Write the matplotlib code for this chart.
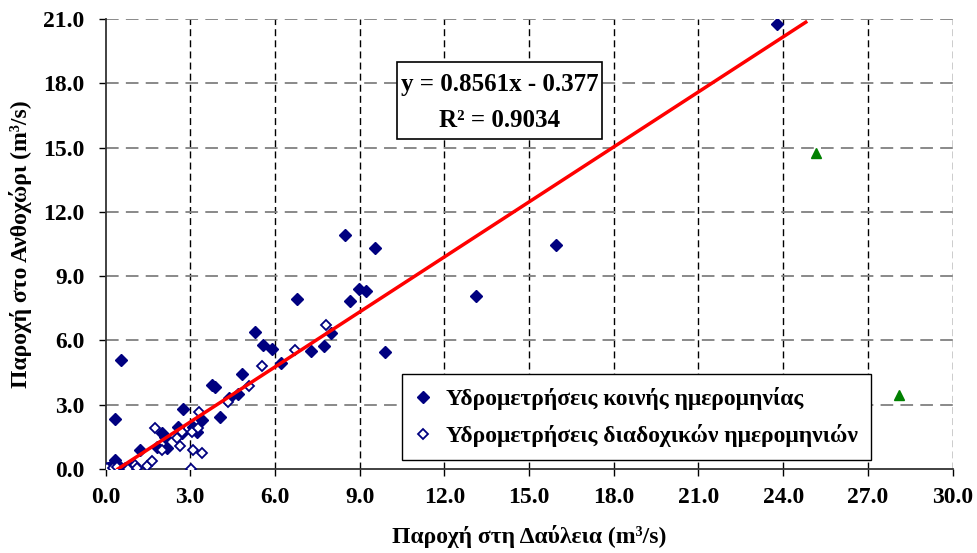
import numpy as np
import matplotlib
matplotlib.use("Agg")
import matplotlib.pyplot as plt
from matplotlib.patches import Rectangle

plt.rcParams['font.family'] = ['Liberation Serif', 'DejaVu Serif']
plt.rcParams['font.weight'] = 'bold'

# flow at Daulia (x) vs flow at Anthochori (y), m3/s
common_x = [0.09, 0.23, 0.34, 0.51, 0.69, 0.87, 0.34, 0.55, 1.22, 1.82, 2.18,
            2.0, 2.11, 2.57, 2.71, 3.10, 3.24, 3.42, 2.74, 4.05, 4.37, 4.69,
            3.77, 3.88, 4.83, 5.29, 5.58, 5.89, 6.21, 7.27, 7.74, 7.98, 6.78,
            8.65, 8.97, 9.22, 8.48, 9.54, 9.89, 13.12, 15.95, 23.77]
common_y = [0.05, 0.19, 0.42, 0.09, 0.05, 0.09, 2.33, 5.09, 0.89, 1.03, 0.98,
            1.68, 1.49, 1.96, 1.68, 1.96, 1.73, 2.29, 2.80, 2.43, 3.31, 3.50,
            3.92, 3.83, 4.43, 6.39, 5.79, 5.60, 4.95, 5.51, 5.74, 6.35, 7.93,
            7.84, 8.40, 8.31, 10.92, 10.31, 5.46, 8.07, 10.45, 20.77]

succ_x = [0.05, 0.27, 0.41, 0.80, 1.04, 1.12, 1.47, 1.65, 1.75, 2.0, 2.53,
          2.64, 2.70, 3.03, 3.06, 3.10, 3.27, 3.31, 3.42, 4.34, 5.08, 5.54,
          6.71, 7.81]
succ_y = [0.05, 0.05, 0.09, 0.0, 0.19, 0.05, 0.14, 0.37, 1.91, 0.89, 1.45,
          1.07, 1.72, 0.0, 1.73, 0.89, 1.91, 2.66, 0.75, 3.13, 3.87, 4.81,
          5.55, 6.72]

other_x = [25.15, 28.1]
other_y = [14.75, 3.45]

slope, intercept, r2 = 0.8561, -0.377, 0.9034
fit_x = np.array([0.44, 24.8])

x_ticks = np.arange(0, 30.1, 3)
y_ticks = np.arange(0, 21.1, 3)

navy = '#000080'

fig = plt.figure(figsize=(9.77, 5.53), dpi=100)
ax = fig.add_axes([0.108, 0.152, 0.867, 0.8135])

for v in x_ticks[1:]:
    ax.axvline(v, color='black', lw=1.0, ls=(0, (5, 3)), zorder=0)
for v in y_ticks[1:]:
    ax.axhline(v, color='#808080', lw=1.3, ls=(0, (7, 4)), zorder=0)

ax.plot(common_x, common_y, ls='none', marker='D', ms=6, color=navy,
        label='Υδρομετρήσεις κοινής ημερομηνίας', zorder=3)
ax.plot(succ_x, succ_y, ls='none', marker='D', ms=5.3, mfc='white', mec=navy,
        mew=1.3, label='Υδρομετρήσεις διαδοχικών ημερομηνιών', zorder=3)
ax.plot(other_x, other_y, ls='none', marker='^', ms=7.5, color='#008000', zorder=3)
ax.plot(fit_x, slope * fit_x + intercept, color='#ff0000', lw=2.5, zorder=4)

ax.set_xlim(0, 30)
ax.set_ylim(0, 21)
ax.set_xticks(x_ticks)
ax.set_yticks(y_ticks)
ax.set_xticklabels([f'{v:.1f}' for v in x_ticks])
ax.set_yticklabels([f'{v:.1f}' for v in y_ticks])
ax.tick_params(direction='out', length=5, width=1, labelsize=17)
ax.tick_params(axis='x', pad=8)
ax.tick_params(axis='y', pad=10)
for s in ['top', 'right']:
    ax.spines[s].set_visible(False)
for s in ['left', 'bottom']:
    ax.spines[s].set_linewidth(1.3)
    ax.spines[s].set_color('#333333')

ax.set_xlabel('Παροχή στη Δαύλεια (m³/s)', fontsize=17, fontweight='bold', labelpad=12)
ax.set_ylabel('Παροχή στο Ανθοχώρι (m³/s)', fontsize=17, fontweight='bold', labelpad=8)

# equation box
ax.add_patch(Rectangle((0.344, 0.733), 0.242, 0.171, transform=ax.transAxes,
                       facecolor='white', edgecolor='black', lw=1.2, zorder=5))
ax.text(0.465, 0.855, f'y = {slope:.4f}x - {abs(intercept):.3f}', transform=ax.transAxes,
        ha='center', va='center', fontsize=18, fontweight='bold', zorder=6)
ax.text(0.465, 0.775, f'R² = {r2:.4f}', transform=ax.transAxes,
        ha='center', va='center', fontsize=18, fontweight='bold', zorder=6)

leg = ax.legend(loc='lower left', bbox_to_anchor=(0.35, 0.02), borderaxespad=0,
                fancybox=False, edgecolor='black', framealpha=1,
                handlelength=0.7, handletextpad=0.6, labelspacing=0.6,
                borderpad=0.55, prop={'weight': 'bold', 'size': 17})
leg.get_frame().set_linewidth(1.0)
leg.set_zorder(6)

fig.savefig('out.png', dpi=100)
